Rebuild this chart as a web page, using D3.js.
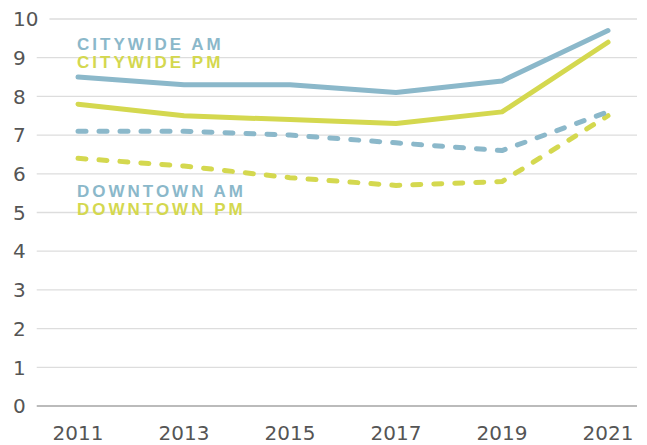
<!DOCTYPE html>
<html>
<head>
<meta charset="utf-8">
<script src="https://cdn.jsdelivr.net/npm/d3@7"></script>
<style>
  body { margin: 0; background: #fff; }
  .tick-label { font-family: "DejaVu Sans", sans-serif; }
  .series-label { font-family: "Liberation Sans", Arial, sans-serif; font-weight: bold; }
</style>
</head>
<body>
<div id="chart"></div>
<script>
var years = [2011, 2013, 2015, 2017, 2019, 2021];
var yTicks = [0, 1, 2, 3, 4, 5, 6, 7, 8, 9, 10];
var citywideAM = [8.5, 8.3, 8.3, 8.1, 8.4, 9.7];
var citywidePM = [7.8, 7.5, 7.4, 7.3, 7.6, 9.4];
var downtownAM = [7.1, 7.1, 7.0, 6.8, 6.6, 7.6];
var downtownPM = [6.4, 6.2, 5.9, 5.7, 5.8, 7.5];
var seriesNames = ["CITYWIDE AM", "CITYWIDE PM", "DOWNTOWN AM", "DOWNTOWN PM"];

var blue = "#8bb8ca", yellow = "#d4d84f";

var width = 647, height = 445;

var svg = d3.select("#chart").append("svg")
    .attr("width", width)
    .attr("height", height);

var x = d3.scalePoint()
    .domain(years)
    .range([78, 608]);

var y = d3.scaleLinear()
    .domain([0, 10])
    .range([406, 19]);

// y labels + gridlines (gridline starts just after its label)
var yg = svg.append("g");
yTicks.forEach(function(t) {
  var lbl = yg.append("text")
      .attr("class", "tick-label")
      .attr("x", 13)
      .attr("y", y(t))
      .attr("dy", "0.36em")
      .attr("font-size", 20)
      .attr("fill", "#555")
      .text(t);
  var bb = lbl.node().getBBox();
  yg.insert("line", "text")
      .attr("x1", bb.x + bb.width + 11)
      .attr("x2", 637)
      .attr("y1", y(t))
      .attr("y2", y(t))
      .attr("stroke", t == 0 ? "#bbb" : "#ddd")
      .attr("stroke-width", t == 0 ? 2 : 1.3);
});

// x labels
svg.append("g")
  .selectAll("text")
  .data(years)
  .enter().append("text")
    .attr("class", "tick-label")
    .attr("x", function(d) { return x(d); })
    .attr("y", 440)
    .attr("text-anchor", "middle")
    .attr("font-size", 20)
    .attr("fill", "#555")
    .text(function(d) { return d; });

var line = d3.line()
    .x(function(d, i) { return x(years[i]); })
    .y(function(d) { return y(d); });

var series = [
  {vals: citywideAM, color: blue, dash: null},
  {vals: citywidePM, color: yellow, dash: null},
  {vals: downtownAM, color: blue, dash: "8,13"},
  {vals: downtownPM, color: yellow, dash: "8,13"}
];

// yellow under blue
[series[3], series[2], series[1], series[0]].forEach(function(s) {
  svg.append("path")
      .datum(s.vals)
      .attr("d", line)
      .attr("fill", "none")
      .attr("stroke", s.color)
      .attr("stroke-width", 5)
      .attr("stroke-linecap", "round")
      .attr("stroke-linejoin", "round")
      .attr("stroke-dasharray", s.dash);
});

// series labels
var labelY = [50, 68, 197, 215];
var labelColor = [blue, yellow, blue, yellow];
svg.append("g")
  .selectAll("text")
  .data(seriesNames)
  .enter().append("text")
    .attr("class", "series-label")
    .attr("x", 77)
    .attr("y", function(d, i) { return labelY[i]; })
    .attr("font-size", 17)
    .attr("letter-spacing", "3px")
    .attr("fill", function(d, i) { return labelColor[i]; })
    .text(function(d) { return d; });
</script>
</body>
</html>
